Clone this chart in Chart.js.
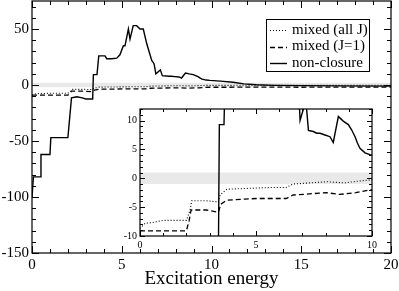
<!DOCTYPE html>
<html><head><meta charset="utf-8">
<script src="https://cdn.jsdelivr.net/npm/chart.js@4/dist/chart.umd.min.js"></script>
<style>
html,body{margin:0;padding:0;background:#fff;}
#wrap{position:relative;width:399px;height:291px;overflow:hidden;background:#fff;}
#main{position:absolute;left:0;top:0;}
#inset{position:absolute;left:100px;top:100px;}
</style></head><body>
<div id="wrap">
<canvas id="main" width="399" height="291" style="width:399px;height:291px"></canvas>
<canvas id="inset" width="285" height="155" style="width:285px;height:155px"></canvas>
</div>
<script>
// ---- data ----
const seriesLabels = ['mixed (all J)', 'mixed (J=1)', 'non-closure'];

const allJX = [0, 0.22, 0.5, 1.0, 2.0, 2.16, 2.23, 2.87, 3.38, 3.45, 3.74, 5.6, 6.3, 6.6, 8.05, 8.8, 9.6, 9.9, 11, 13, 15, 17, 20];
const allJY = [-8.7, -7.8, -7.7, -7.3, -7.3, -5.5, -3.9, -3.9, -4.1, -2.9, -1.9, -1.6, -1.6, -1.0, -0.6, -0.8, -0.4, -0.3, -0.3, -0.2, -0.3, -0.2, -0.2];

const j1X = [0, 2.0, 2.12, 2.2, 2.87, 3.38, 3.48, 3.74, 5.03, 6.3, 6.6, 8.05, 8.6, 9.3, 9.9, 11, 13, 15, 17, 20];
const j1Y = [-9.1, -9.1, -7.3, -5.5, -5.5, -5.9, -4.5, -3.8, -3.5, -3.5, -2.9, -2.5, -2.8, -2.5, -2.0, -2.0, -1.9, -2.0, -1.9, -1.9];

const ncX = [0, 0.08, 0.45, 0.5, 1.0, 1.05, 2.0, 2.2, 2.5, 2.8, 3.0, 3.38, 3.42, 3.62, 3.72, 4.07, 4.16, 4.44, 4.72, 4.9, 5.09, 5.18, 5.37, 5.46, 5.64, 5.83, 6.02, 6.2, 6.39, 6.67, 6.8, 6.9, 7.15, 7.26, 7.47, 7.62, 7.76, 7.97, 8.19, 8.33, 8.55, 8.76, 8.98, 9.12, 9.27, 9.37, 9.48, 9.7, 9.91, 10.5, 11.2, 11.8, 12.5, 13.5, 15, 17, 20];
const ncY = [-100, -82, -82, -62, -62, -47, -47, -11.5, -10.5, -11.5, -12.5, -12.5, 9.3, 9.3, 26, 26, 23.5, 23.5, 24, 27, 35, 35, 50, 41, 53, 53, 50, 50, 37, 22, 19, 10, 13.5, 8.3, 8.1, 7.8, 7.8, 7.5, 7.2, 6.2, 10.7, 9.9, 9.3, 8.4, 7.2, 6.1, 5.2, 4.4, 4.1, 3.5, 2.5, 1.0, 0.2, -0.3, -0.6, -0.8, -1.0];

const mainXTicks = [0, 5, 10, 15, 20];
const mainYTicks = [-150, -100, -50, 0, 50];
const insetXTicks = [0, 5, 10];
const insetYTicks = [-10, -5, 0, 5, 10];
const xTitle = 'Excitation energy';

const mainBand = [-2, 2];
const insetBand = [-1, 1];

// ---- helpers ----
const pts = (xs, ys) => xs.map((x, i) => ({x, y: ys[i]}));
const styles = [
  {borderDash: [1, 2], borderWidth: 1.1, borderColor: '#000'},
  {borderDash: [5, 3], borderWidth: 1.3, borderColor: '#000'},
  {borderDash: [], borderWidth: 1.4, borderColor: '#000'}
];
function makeDatasets() {
  const d = [pts(allJX, allJY), pts(j1X, j1Y), pts(ncX, ncY)];
  return d.map((data, i) => Object.assign({
    label: seriesLabels[i], data, showLine: true, pointRadius: 0, tension: 0, fill: false
  }, styles[i]));
}
const noPad = s => { s.paddingTop = 0; s.paddingBottom = 0; s.paddingLeft = 0; s.paddingRight = 0; };

const framePlugin = {
  id: 'frameTicks',
  beforeDatasetsDraw(chart, args, o) {
    const {ctx, chartArea: a, scales: {x, y}} = chart;
    ctx.save();
    ctx.fillStyle = '#fff';
    ctx.fillRect(a.left, a.top, a.right - a.left, a.bottom - a.top);
    const y1 = y.getPixelForValue(o.band[1]), y0 = y.getPixelForValue(o.band[0]);
    ctx.fillStyle = '#e9e9e9';
    ctx.fillRect(a.left, y1, a.right - a.left, y0 - y1);
    ctx.restore();
  },
  afterDatasetsDraw(chart, args, o) {
    const {ctx, chartArea: a, scales: {x, y}} = chart;
    ctx.save();
    ctx.strokeStyle = '#000';
    ctx.lineWidth = 1;
    ctx.beginPath();
    const isMajor = (list, v) => list.some(t => Math.abs(t - v) < 1e-9);
    for (let v = x.min; v <= x.max + 1e-9; v += o.minorX) {
      const px = Math.round(x.getPixelForValue(v)) + 0.5;
      const L = isMajor(o.majorX, v) ? o.majorLen : o.minorLen;
      ctx.moveTo(px, a.bottom); ctx.lineTo(px, a.bottom - L);
      ctx.moveTo(px, a.top); ctx.lineTo(px, a.top + L);
    }
    const y0 = Math.ceil(y.min / o.minorY) * o.minorY;
    for (let v = y0; v <= y.max + 1e-9; v += o.minorY) {
      const py = Math.round(y.getPixelForValue(v)) + 0.5;
      const L = isMajor(o.majorY, v) ? o.majorLen : o.minorLen;
      ctx.moveTo(a.left, py); ctx.lineTo(a.left + L, py);
      ctx.moveTo(a.right, py); ctx.lineTo(a.right - L, py);
    }
    ctx.stroke();
    ctx.lineWidth = o.frameWidth;
    ctx.strokeRect(a.left, a.top, a.right - a.left, a.bottom - a.top);
    ctx.restore();
  }
};

const legendPlugin = {
  id: 'boxLegend',
  afterDatasetsDraw(chart, args, o) {
    if (!o.show) return;
    const ctx = chart.ctx;
    ctx.save();
    ctx.fillStyle = '#fff';
    ctx.fillRect(o.x, o.y, o.w, o.h);
    ctx.strokeStyle = '#000';
    ctx.lineWidth = 1;
    ctx.strokeRect(o.x + 0.5, o.y + 0.5, o.w, o.h);
    ctx.font = o.font;
    ctx.fillStyle = '#000';
    ctx.textBaseline = 'middle';
    chart.data.datasets.forEach((ds, i) => {
      const cy = o.y + o.rowTop + i * o.rowH;
      ctx.setLineDash(ds.borderDash || []);
      ctx.lineWidth = ds.borderWidth;
      ctx.beginPath();
      ctx.moveTo(o.x + 4, Math.round(cy) + 0.5);
      ctx.lineTo(o.x + 21, Math.round(cy) + 0.5);
      ctx.stroke();
      ctx.setLineDash([]);
      ctx.fillText(ds.label, o.x + 26, cy);
    });
    ctx.restore();
  }
};

const serif = 'Liberation Serif';

// ---- main chart ----
new Chart(document.getElementById('main'), {
  type: 'scatter',
  data: {datasets: makeDatasets()},
  plugins: [framePlugin, legendPlugin],
  options: {
    responsive: false, animation: false, events: [],
    layout: {padding: {top: 1, right: 8, left: 0, bottom: 0}},
    plugins: {
      legend: {display: false}, tooltip: {enabled: false},
      frameTicks: {band: mainBand, minorX: 1, minorY: 10, majorX: mainXTicks, majorY: mainYTicks, majorLen: 7, minorLen: 4, frameWidth: 1.2},
      boxLegend: {show: true, x: 266, y: 19, w: 103, h: 52, rowTop: 11, rowH: 16.5, font: '15px "' + serif + '"'}
    },
    scales: {
      x: {
        type: 'linear', min: 0, max: 20,
        afterBuildTicks: s => { s.ticks = mainXTicks.map(v => ({value: v})); },
        afterFit: s => { s.height = 38; noPad(s); },
        grid: {display: false, drawTicks: false}, border: {display: false},
        ticks: {color: '#000', font: {family: serif, size: 15}, padding: 3, maxRotation: 0, autoSkip: false},
        title: {display: true, text: xTitle, color: '#000', font: {family: serif, size: 19}, padding: {top: 0, bottom: 1}}
      },
      y: {
        type: 'linear', min: -150, max: 75,
        afterBuildTicks: s => { s.ticks = mainYTicks.map(v => ({value: v})); },
        afterFit: s => { s.width = 32; noPad(s); },
        grid: {display: false, drawTicks: false}, border: {display: false},
        ticks: {color: '#000', font: {family: serif, size: 15}, padding: 3, autoSkip: false}
      }
    }
  }
});

// ---- inset chart ----
new Chart(document.getElementById('inset'), {
  type: 'scatter',
  data: {datasets: makeDatasets()},
  plugins: [framePlugin],
  options: {
    responsive: false, animation: false, events: [],
    layout: {padding: {top: 9, right: 13, left: 0, bottom: 0}},
    plugins: {
      legend: {display: false}, tooltip: {enabled: false},
      frameTicks: {band: insetBand, minorX: 1, minorY: 1, majorX: insetXTicks, majorY: insetYTicks, majorLen: 5, minorLen: 3, frameWidth: 1.2}
    },
    scales: {
      x: {
        type: 'linear', min: 0, max: 10,
        afterBuildTicks: s => { s.ticks = insetXTicks.map(v => ({value: v})); },
        afterFit: s => { s.height = 19; noPad(s); },
        grid: {display: false, drawTicks: false}, border: {display: false},
        ticks: {color: '#000', font: {family: serif, size: 10}, padding: 3, maxRotation: 0, autoSkip: false}
      },
      y: {
        type: 'linear', min: -10, max: 12,
        afterBuildTicks: s => { s.ticks = insetYTicks.map(v => ({value: v})); },
        afterFit: s => { s.width = 40; noPad(s); },
        grid: {display: false, drawTicks: false}, border: {display: false},
        ticks: {color: '#000', font: {family: serif, size: 10}, padding: 3, autoSkip: false}
      }
    }
  }
});
</script>
</body></html>
